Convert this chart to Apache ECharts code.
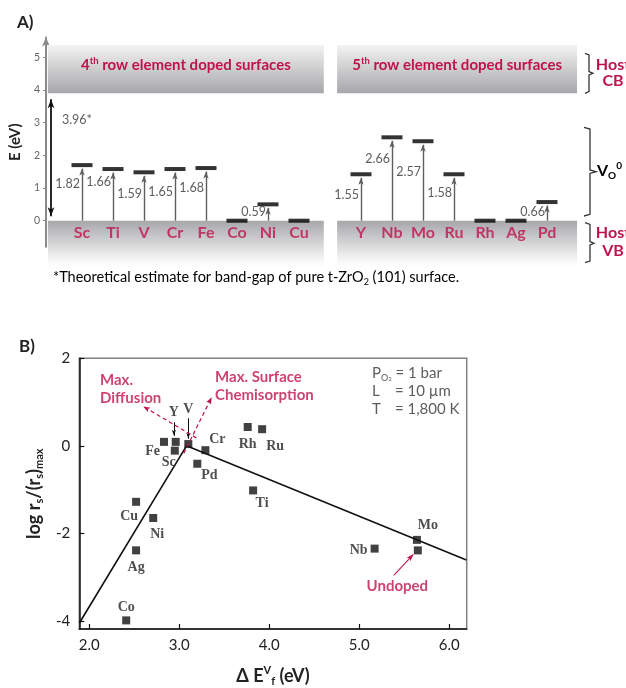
<!DOCTYPE html>
<html><head><meta charset="utf-8">
<script src="https://cdn.jsdelivr.net/npm/echarts@6/dist/echarts.min.js"></script>
<style>html,body{margin:0;padding:0;background:#fff}#c{width:626px;height:688px}</style>
</head><body><div id="c"></div>
<script>
// ---------- Panel A data ----------
const row4 = ['Sc','Ti','V','Cr','Fe','Co','Ni','Cu'];
const row4Level = [1.70,1.58,1.48,1.58,1.61,0,0.50,0];
const row4Gap = ['1.82','1.66','1.59','1.65','1.68','','0.59',''];
const row4LabelAt = [1.12,1.17,0.83,0.89,1.01,0,0.27,0];
const row5 = ['Y','Nb','Mo','Ru','Rh','Ag','Pd'];
const row5Level = [1.42,2.55,2.43,1.42,0,0,0.57];
const row5Gap = ['1.55','2.66','2.57','1.58','','','0.66'];
const row5LabelAt = [0.80,1.90,1.50,0.86,0,0,0.28];
const bandGapText = '3.96*';
const bandGapLabelAt = 3.08;
const cbEdge = 3.9, cbTop = 5.37, vbBottom = -1.45;
const energyTicks = [0,1,2,3,4,5];

// ---------- Panel B data ----------
const dopants = ['Fe','Y','Sc','V','Cr','Pd','Rh','Ru','Ti','Cu','Ni','Ag','Co','Mo','Nb','Undoped'];
const deltaEv = [2.83,2.96,2.95,3.10,3.29,3.20,3.76,3.92,3.82,2.52,2.71,2.52,2.41,5.64,5.17,5.65];
const logRate = [0.09,0.09,-0.11,0.04,-0.10,-0.41,0.43,0.38,-1.02,-1.28,-1.65,-2.39,-3.99,-2.15,-2.35,-2.39];
const volcanoX = [1.89, 3.08, 6.19];
const volcanoY = [-4.05, 0.0, -2.61];
const dEvTicks = [2,3,4,5,6];
const logTicks = [-4,-2,0,2];

const SANS = 'Lato, "Open Sans", sans-serif';
const SERIF = '"Liberation Serif", "DejaVu Serif", serif';
const RED = '#c0134c';

const chart = echarts.init(document.getElementById('c'), null, {width:626, height:688});

// layout helpers
const PX_EV = 32.7; // px per eV in panel A
const slot4 = row4.map((_, i) => i);
const slot5 = row5.map((_, j) => row4.length + 1 + j);
const slots = slot4.concat(slot5);
const names = row4.concat(row5);
const levels = row4Level.concat(row5Level);
const gaps = row4Gap.concat(row5Gap);
const gapAt = row4LabelAt.concat(row5LabelAt);

const cbGrad = new echarts.graphic.LinearGradient(0,0,0,1,[{offset:0,color:'#f3f3f3'},{offset:1,color:'#a7a7ab'}]);
const vbGrad = new echarts.graphic.LinearGradient(0,0,0,1,[{offset:0,color:'#a7a7ab'},{offset:0.85,color:'#f8f8f8'},{offset:1,color:'#ffffff'}]);

const bandRich = {
  b:{fontFamily:SANS,fontWeight:'bold',fontSize:15,color:RED,lineHeight:18},
  sup:{fontFamily:SANS,fontWeight:'bold',fontSize:9.5,color:RED,lineHeight:9,verticalAlign:'top'}
};
const bandSpans = [[-1.1, 7.8, '4'], [8.23, 15.97, '5']];
const areas = [];
bandSpans.forEach(([a,b,n]) => {
  areas.push([{xAxis:a, yAxis:cbTop, itemStyle:{color:cbGrad},
    label:{show:true, position:'inside', offset:[0,-4], formatter:`{b|${n}}{sup|th}{b| row element doped surfaces}`, rich:bandRich}},
    {xAxis:b, yAxis:cbEdge}]);
  areas.push([{xAxis:a, yAxis:0, itemStyle:{color:vbGrad}, label:{show:false}}, {xAxis:b, yAxis:vbBottom}]);
});

const ARW_H = 7;
const gapArrows = [];
slots.forEach((s,i) => {
  if (levels[i] > 0) gapArrows.push([{coord:[s,0]},{coord:[s, levels[i] - (ARW_H/2)/PX_EV]}]);
});

// panel B label placement
const place = {
  Fe:{position:'left', distance:0, offset:[0,10]},
  Y:{position:'top', distance:18, offset:[-2,0]},
  Sc:{position:'bottom', distance:1, offset:[-6,0]},
  V:{position:'top', distance:24},
  Cr:{position:'top', distance:0, offset:[12,0]},
  Pd:{position:'bottom', distance:1, offset:[12,0]},
  Rh:{position:'bottom', distance:6},
  Ru:{position:'bottom', distance:6, offset:[13,0]},
  Ti:{position:'bottom', distance:2, offset:[9,0]},
  Cu:{position:'bottom', distance:4, offset:[-7,0]},
  Ni:{position:'bottom', distance:5, offset:[4,0]},
  Ag:{position:'bottom', distance:6},
  Co:{position:'top', distance:2},
  Mo:{position:'top', distance:3, offset:[11,0]},
  Nb:{position:'left', distance:3, offset:[0,2]},
  Undoped:{show:false}
};
const idx = n => dopants.indexOf(n);
const pt = n => [deltaEv[idx(n)], logRate[idx(n)]];

const subRich = (F, color, weight, fam) => ({
  n:{fontFamily:fam||SANS,fontWeight:weight,fontSize:F,color,lineHeight:F+4},
  sub:{fontFamily:fam||SANS,fontWeight:weight,fontSize:Math.round(F*0.62),color,lineHeight:Math.round(F*0.62),verticalAlign:'bottom'},
  sup:{fontFamily:fam||SANS,fontWeight:weight,fontSize:Math.round(F*0.62),color,lineHeight:Math.round(F*0.62),verticalAlign:'top'}
});

const hidden = {show:false};
const option = {
  animation:false,
  backgroundColor:'#fff',
  grid:[
    {left:43, top:40.85, width:537, height:228.9},
    {left:43, top:37.58, width:537, height:209.28},
    {left:79.3, top:358.3, width:387.4, height:278.4, show:true, borderColor:'#808080', borderWidth:1.5}
  ],
  xAxis:[
    {gridIndex:0, type:'value', min:-1.258, max:16.065, show:false},
    {gridIndex:1, type:'value', min:0, max:1, show:false},
    {gridIndex:2, type:'value', min:1.889, max:6.193,
      axisLine:{onZero:false, lineStyle:{color:'#111', width:1.5}},
      axisTick:{inside:true, length:5, customValues:dEvTicks, lineStyle:{color:'#111', width:1.2}},
      axisLabel:{customValues:dEvTicks, formatter:v=>v.toFixed(1), fontFamily:SANS, fontSize:15, color:'#222', margin:9},
      splitLine:hidden,
      name:'{n|Δ E}{sup|V}{sub|f}{n| (eV)}', nameLocation:'middle', nameGap:36,
      nameTextStyle:{rich:subRich(18,'#222','bold')}
    }
  ],
  yAxis:[
    {gridIndex:0, type:'value', min:-1.5, max:5.5, show:false},
    {gridIndex:1, type:'value', min:-0.8, max:5.6,
      axisLine:{show:true, onZero:false, symbol:['none','arrow'], symbolSize:[6,9], lineStyle:{color:'#8a8a8a', width:2}},
      axisTick:{show:true, customValues:energyTicks, length:3, lineStyle:{color:'#8a8a8a'}},
      axisLabel:{customValues:energyTicks, fontFamily:SANS, fontSize:10.5, color:'#666', margin:6},
      splitLine:hidden,
      name:'E (eV)', nameLocation:'middle', nameGap:11,
      nameTextStyle:{fontFamily:SANS, fontWeight:'bold', fontSize:15, color:'#222'}
    },
    {gridIndex:2, type:'value', min:-4.187, max:2,
      axisLine:{onZero:false, lineStyle:{color:'#111', width:1.5}},
      axisTick:{inside:true, length:5, customValues:logTicks, lineStyle:{color:'#111', width:1.2}},
      axisLabel:{customValues:logTicks, fontFamily:SANS, fontSize:15, color:'#222', margin:9},
      splitLine:hidden,
      name:'{n|log r}{sub|s}{n|/(r}{sub|s}{n|)}{sub|max}', nameLocation:'middle', nameGap:34,
      nameTextStyle:{rich:subRich(18,'#222','bold')}
    }
  ],
  series:[
    // bands
    {type:'line', xAxisIndex:0, yAxisIndex:0, data:[], silent:true, z:1,
      markArea:{silent:true, data:areas}},
    // vacancy level arrows
    {type:'line', xAxisIndex:0, yAxisIndex:0, data:[], silent:true, z:3,
      markLine:{silent:true, symbol:['none','arrow'], symbolSize:[4,ARW_H], label:{show:false},
        lineStyle:{color:'#5e5e5e', width:1.4, type:'solid'}, data:gapArrows}},
    // band-gap double arrow
    {type:'line', xAxisIndex:0, yAxisIndex:0, data:[], silent:true, z:3,
      markLine:{silent:true, symbol:['arrow','arrow'], symbolSize:[5,9], label:{show:false},
        lineStyle:{color:'#111', width:1.8, type:'solid'},
        data:[[{coord:[-1.0, 4.5/PX_EV]},{coord:[-1.0, cbEdge - 6/PX_EV]}]]}},
    // level bars
    {type:'scatter', xAxisIndex:0, yAxisIndex:0, symbol:'rect', symbolSize:[21,4], z:5, silent:true,
      itemStyle:{color:'#000'}, data:slots.map((s,i)=>[s, levels[i]])},
    // element names
    {type:'scatter', xAxisIndex:0, yAxisIndex:0, symbolSize:0.1, z:6, silent:true,
      itemStyle:{color:'rgba(0,0,0,0)'},
      label:{show:true, position:'bottom', distance:4, formatter:p=>names[p.dataIndex],
        fontFamily:SANS, fontWeight:'bold', fontSize:16, color:RED},
      data:slots.map(s=>[s,0])},
    // gap values
    {type:'scatter', xAxisIndex:0, yAxisIndex:0, symbolSize:0.1, z:6, silent:true,
      itemStyle:{color:'rgba(0,0,0,0)'},
      label:{show:true, position:'left', distance:2, formatter:p=>p.value[2],
        fontFamily:SANS, fontSize:12.5, color:'#333'},
      data:slots.map((s,i)=>[s, gapAt[i], gaps[i]]).filter(d=>d[2])},
    {type:'scatter', xAxisIndex:0, yAxisIndex:0, symbolSize:0.1, z:6, silent:true,
      itemStyle:{color:'rgba(0,0,0,0)'},
      label:{show:true, position:'right', distance:0, formatter:bandGapText, fontFamily:SANS, fontSize:12.5, color:'#333'},
      data:[[-0.65, bandGapLabelAt]]},

    // ---------- Panel B ----------
    {type:'line', xAxisIndex:2, yAxisIndex:2, data:volcanoX.map((x,i)=>[x, volcanoY[i]]),
      symbol:'none', lineStyle:{color:'#111', width:1.6}, z:2, silent:true},
    {type:'scatter', xAxisIndex:2, yAxisIndex:2, symbol:'rect', symbolSize:8, z:4, silent:true,
      itemStyle:{color:'#111'},
      label:{show:true, formatter:p=>dopants[p.dataIndex], fontFamily:SERIF, fontWeight:'bold', fontSize:14, color:'#222'},
      data:dopants.map((n,i)=>({value:[deltaEv[i], logRate[i]], label:place[n]}))},
    // black pointers for Y and V
    {type:'line', xAxisIndex:2, yAxisIndex:2, data:[], silent:true, z:3,
      markLine:{silent:true, symbol:['none','arrow'], symbolSize:[3,6], label:{show:false},
        lineStyle:{color:'#111', width:1, type:'solid'},
        data:[
          [{coord:[pt('Y')[0]-0.02, pt('Y')[1]+0.45]},{coord:[pt('Y')[0]-0.02, pt('Y')[1]+0.14]}],
          [{coord:[pt('V')[0], pt('V')[1]+0.59]},{coord:[pt('V')[0], pt('V')[1]+0.12]}]
        ]}},
    // red dashed arrows
    {type:'line', xAxisIndex:2, yAxisIndex:2, data:[], silent:true, z:3,
      markLine:{silent:true, symbol:['none','arrow'], symbolSize:[4,7], label:{show:false},
        lineStyle:{color:RED, width:1.2, type:[4,3]},
        data:[
          [{coord:[3.19, 0.18]},{coord:[2.60, 0.90]}],
          [{coord:[3.05, -0.17]},{coord:[3.36, 1.11]}]
        ]}},
    {type:'line', xAxisIndex:2, yAxisIndex:2, data:[], silent:true, z:3,
      markLine:{silent:true, symbol:['none','arrow'], symbolSize:[4,7], label:{show:false},
        lineStyle:{color:RED, width:1.1, type:'solid'},
        data:[[{coord:[5.383, -2.964]},{coord:[5.60, -2.48]}]]}},
    // annotations text
    {type:'scatter', xAxisIndex:2, yAxisIndex:2, symbolSize:0.1, z:6, silent:true,
      itemStyle:{color:'rgba(0,0,0,0)'},
      label:{show:true, position:'inside', formatter:p=>p.value[2], fontFamily:SANS, fontWeight:'bold', fontSize:15, color:RED, lineHeight:18},
      data:[
        {value:[2.119, 1.296, 'Max.\nDiffusion'], label:{align:'left', verticalAlign:'middle'}},
        {value:[3.397, 1.36, 'Max. Surface\nChemisorption'], label:{align:'left', verticalAlign:'middle'}},
        {value:[5.422, -3.2, 'Undoped'], label:{align:'center', verticalAlign:'middle'}}
      ]},
    {type:'scatter', xAxisIndex:2, yAxisIndex:2, symbolSize:0.1, z:6, silent:true,
      itemStyle:{color:'rgba(0,0,0,0)'},
      label:{show:true, position:'inside', align:'left', verticalAlign:'middle',
        formatter:'{k|P}{s|O}{ss|2}{v| = 1 bar}\n{k2|L}{v|= 10 µm}\n{k2|T}{v|= 1,800 K}',
        rich:{
          k:{fontFamily:SANS,fontSize:15,color:'#333',lineHeight:18},
          k2:{fontFamily:SANS,fontSize:15,color:'#333',lineHeight:18,width:23},
          s:{fontFamily:SANS,fontSize:9,color:'#333',lineHeight:9,verticalAlign:'bottom'},
          ss:{fontFamily:SANS,fontSize:6,color:'#333',lineHeight:5,verticalAlign:'bottom'},
          v:{fontFamily:SANS,fontSize:15,color:'#333',lineHeight:18}
        }},
      data:[[5.14, 1.25]]}
  ],
  graphic:[
    {type:'text', x:17, y:23, style:{text:'A)', font:'bold 17px '+SANS, fill:'#222', verticalAlign:'middle'}},
    {type:'text', x:19, y:347, style:{text:'B)', font:'bold 17px '+SANS, fill:'#222', verticalAlign:'middle'}},
    {type:'text', x:53, y:277, style:{
      text:'{n|*Theoretical estimate for band-gap of pure t-ZrO}{sub|2}{n| (101) surface.}',
      rich:subRich(14.5,'#333','normal'), verticalAlign:'middle'}},
    {type:'text', x:613, y:73, style:{text:'Host\nCB', font:'bold 16px '+SANS, fill:RED, align:'center', verticalAlign:'middle', lineHeight:16}},
    {type:'text', x:613, y:242, style:{text:'Host\nVB', font:'bold 16px '+SANS, fill:RED, align:'center', verticalAlign:'middle', lineHeight:18}},
    {type:'text', x:597, y:171, style:{text:'{n|V}{sub|O}{sup|0}', rich:subRich(16,RED,'bold'), verticalAlign:'middle'}},
    {type:'polyline', shape:{points:[[585,53.3],[589,55],[589,71.5],[593,73.3],[589,75],[589,91.6],[585,93.3]]}, style:{stroke:'#333', lineWidth:1.3, fill:null}},
    {type:'polyline', shape:{points:[[584,127.3],[590,129],[590,170],[596,171.7],[590,173.4],[590,214.3],[584,216]]}, style:{stroke:'#333', lineWidth:1.3, fill:null}},
    {type:'polyline', shape:{points:[[585,222.7],[590,224.4],[590,241.5],[594,243.3],[590,245],[590,261],[585,262.7]]}, style:{stroke:'#333', lineWidth:1.3, fill:null}}
  ]
};
chart.setOption(option);
</script></body></html>
